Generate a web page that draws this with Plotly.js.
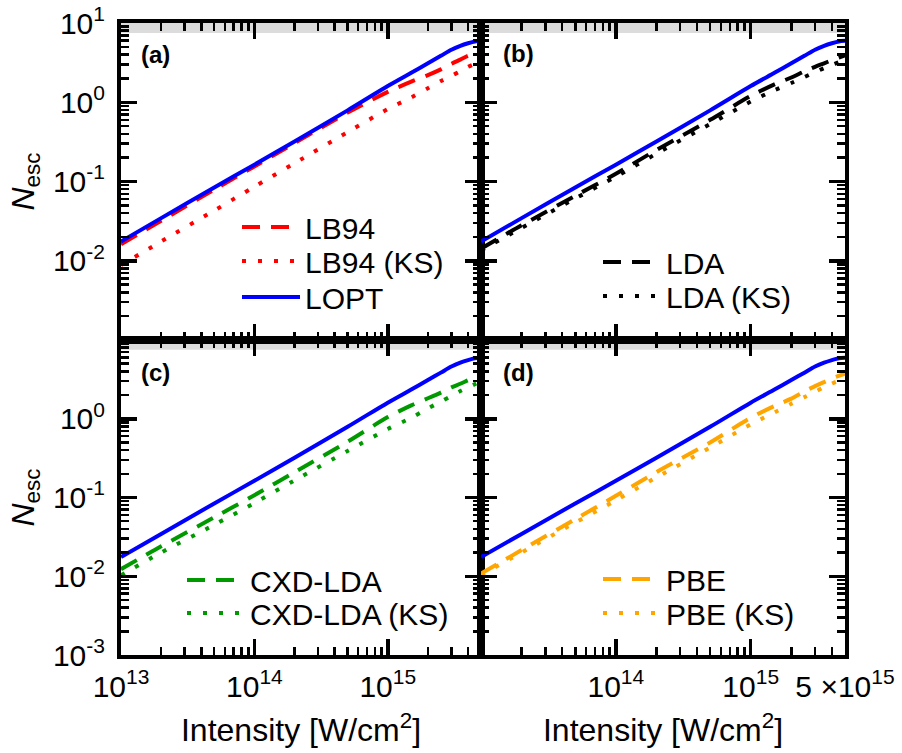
<!DOCTYPE html>
<html><head><meta charset="utf-8">
<script src="https://cdn.plot.ly/plotly-3.0.1.min.js"></script>
<style>html,body{margin:0;padding:0;background:#fff}#chart{width:902px;height:753px}</style>
</head><body><div id="chart"></div><script>
// Intensity grid [W/cm^2]
const intensity = [1e13, 2e13, 5e13, 1e14, 2e14, 5e14, 1e15, 1.5e15, 2e15, 2.5e15, 3e15, 3.5e15, 4e15, 4.5e15, 5e15];
// N_esc values
const lopt   = [0.0175, 0.0345, 0.084, 0.163, 0.32, 0.79, 1.6, 2.35, 3.1, 3.85, 4.6, 5.15, 5.55, 5.85, 5.95];
const lb94   = [0.0162, 0.032, 0.079, 0.155, 0.305, 0.74, 1.35, 1.82, 2.2, 2.6, 3.05, 3.45, 3.85, 4.1, 4.35];
const lb94ks = [0.0088, 0.0175, 0.043, 0.086, 0.17, 0.42, 0.82, 1.15, 1.5, 1.85, 2.15, 2.47, 2.8, 3.05, 3.3];
const lda    = [0.0142, 0.028, 0.066, 0.125, 0.25, 0.6, 1.2, 1.68, 2.05, 2.45, 2.8, 3.1, 3.4, 3.65, 3.9];
const ldaks  = [0.0135, 0.026, 0.061, 0.115, 0.225, 0.53, 1.02, 1.42, 1.75, 2.08, 2.4, 2.7, 2.95, 3.2, 3.4];
const cxd    = [0.0123, 0.024, 0.056, 0.107, 0.21, 0.51, 1.05, 1.48, 1.82, 2.15, 2.5, 2.78, 3.08, 3.35, 3.6];
const cxdks  = [0.0103, 0.020, 0.045, 0.085, 0.165, 0.39, 0.74, 1.03, 1.35, 1.65, 1.95, 2.25, 2.5, 2.75, 3.0];
const pbe    = [0.0108, 0.0215, 0.053, 0.105, 0.21, 0.5, 1.03, 1.45, 1.8, 2.22, 2.6, 2.92, 3.25, 3.5, 3.75];
const pbeks  = [0.0104, 0.020, 0.048, 0.092, 0.18, 0.43, 0.85, 1.2, 1.55, 1.88, 2.2, 2.52, 2.8, 3.05, 3.3];

const panelLabels = ['(a)', '(b)', '(c)', '(d)'];
const xTickVals = [1e13, 1e14, 1e15, 5e15];
const xTickTextLeft = ['10<sup>13</sup>', '10<sup>14</sup>', '10<sup>15</sup>', ''];
const xTickTextRight = ['', '10<sup>14</sup>', '10<sup>15</sup>', '5 ×10<sup>15</sup>'];
const xMinorVals = [2e13,3e13,4e13,5e13,6e13,7e13,8e13,9e13,2e14,3e14,4e14,5e14,6e14,7e14,8e14,9e14,2e15,3e15,4e15];
const yTickVals = [1e-3, 1e-2, 1e-1, 1, 10];
const yTickTextTop = ['', '10<sup>-2</sup>', '10<sup>-1</sup>', '10<sup>0</sup>', '10<sup>1</sup>'];
const yTickTextBottom = ['10<sup>-3</sup>', '10<sup>-2</sup>', '10<sup>-1</sup>', '10<sup>0</sup>', ''];
const yMinorVals = [2e-3,3e-3,4e-3,5e-3,6e-3,7e-3,8e-3,9e-3,2e-2,3e-2,4e-2,5e-2,6e-2,7e-2,8e-2,9e-2,
                    0.2,0.3,0.4,0.5,0.6,0.7,0.8,0.9,2,3,4,5,6,7,8,9];
const bandRange = [7.5, 10];
const xTitle = 'Intensity [W/cm<sup>2</sup>]';
const yTitle = '<i>N</i><sub>esc</sub>';

const FONT = 'Liberation Sans, Arial, Helvetica, sans-serif';
const FS = 30;
const BLUE = '#0000ff', RED = '#ff0000', BLACK = '#000000', GREEN = '#009a00', ORANGE = '#ffa500';
const DASH = '18px,11px', DOT = '4px,12px';
const LW = 4;

function tr(y, name, color, dash, xa, ya, leg, show) {
  return {x: intensity, y: y, name: name, type: 'scatter', mode: 'lines',
    line: {color: color, width: LW, dash: dash, shape: 'spline', smoothing: 0.8}, xaxis: xa, yaxis: ya,
    legend: leg, showlegend: show};
}
const data = [
  tr(lb94, 'LB94', RED, DASH, 'x', 'y', 'legend', true),
  tr(lb94ks, 'LB94 (KS)', RED, DOT, 'x', 'y', 'legend2', true),
  tr(lopt, 'LOPT', BLUE, 'solid', 'x', 'y', 'legend3', true),
  tr(lopt, 'LOPT', BLUE, 'solid', 'x2', 'y2', 'legend3', false),
  tr(lda, 'LDA', BLACK, DASH, 'x2', 'y2', 'legend4', true),
  tr(ldaks, 'LDA (KS)', BLACK, DOT, 'x2', 'y2', 'legend5', true),
  tr(lopt, 'LOPT', BLUE, 'solid', 'x3', 'y3', 'legend3', false),
  tr(cxd, 'CXD-LDA', GREEN, DASH, 'x3', 'y3', 'legend6', true),
  tr(cxdks, 'CXD-LDA (KS)', GREEN, DOT, 'x3', 'y3', 'legend7', true),
  tr(lopt, 'LOPT', BLUE, 'solid', 'x4', 'y4', 'legend3', false),
  tr(pbe, 'PBE', ORANGE, DASH, 'x4', 'y4', 'legend8', true),
  tr(pbeks, 'PBE (KS)', ORANGE, DOT, 'x4', 'y4', 'legend9', true)
];

const W = 902, H = 753;
const xL = [121 / W, 481 / W], xR = [481 / W, 845 / W];
const yT = [1 - 340 / H, 1 - 23 / H], yB = [1 - 655 / H, 1 - 340 / H];

function axis(extra) {
  return Object.assign({
    type: 'log', showline: true, linecolor: 'black', linewidth: 4, mirror: 'allticks',
    ticks: 'inside', ticklen: 16, tickwidth: 3.5, tickcolor: 'black',
    showgrid: false, zeroline: false, automargin: false, tickmode: 'array',
    tickfont: {family: FONT, size: FS, color: 'black'},
    minor: {tickmode: 'array', ticks: 'inside', ticklen: 8, tickwidth: 2.5, tickcolor: 'black', showgrid: false}
  }, extra);
}
function xaxis(domain, anchor, labels, show, title) {
  const a = axis({domain: domain, anchor: anchor, range: [13, Math.log10(5e15)],
    tickvals: xTickVals, ticktext: labels, showticklabels: show, ticklabelstandoff: 2});
  a.minor.tickvals = xMinorVals;
  if (title) a.title = {text: xTitle, font: {family: FONT, size: 32, color: 'black'}, standoff: 18};
  return a;
}
function yaxis(domain, anchor, labels, show, title) {
  const a = axis({domain: domain, anchor: anchor, range: [-3, 1],
    tickvals: yTickVals, ticktext: labels, showticklabels: show, ticklabelstandoff: 6});
  a.minor.tickvals = yMinorVals;
  if (title) a.title = {text: yTitle, font: {family: FONT, size: 32, color: 'black'}, standoff: 10};
  return a;
}
// legend entries: [sample start x, row centre y] in pixels
function legend(px, py) {
  return {x: (px - 5) / W, y: 1 - (py - 26) / H, xref: 'paper', yref: 'paper', xanchor: 'left', yanchor: 'top',
    bgcolor: 'rgba(0,0,0,0)', borderwidth: 0, itemwidth: 58,
    font: {family: FONT, size: FS, color: 'black'}, tracegroupgap: 0};
}
const shapes = ['', '2', '3', '4'].map(s => ({type: 'rect', xref: 'x' + s + ' domain', yref: 'y' + s,
  x0: 0, x1: 1, y0: bandRange[0], y1: bandRange[1], fillcolor: '#dcdcdc', line: {width: 0}, layer: 'below'}));
const labelPos = [[139, 54], [501, 53], [139, 372], [501, 372]];
const annotations = panelLabels.map((t, i) => ({text: '<b>' + t + '</b>', xref: 'paper', yref: 'paper',
  x: labelPos[i][0] / W, y: 1 - labelPos[i][1] / H, xanchor: 'left', yanchor: 'middle', showarrow: false,
  font: {family: FONT, size: 24, color: 'black'}}));

const layout = {
  width: W, height: H, margin: {l: 0, r: 0, t: 0, b: 0},
  paper_bgcolor: 'white', plot_bgcolor: 'white',
  font: {family: FONT, color: 'black'},
  xaxis: xaxis(xL, 'y', xTickTextLeft, false, false),
  yaxis: yaxis(yT, 'x', yTickTextTop, true, true),
  xaxis2: xaxis(xR, 'y2', xTickTextRight, false, false),
  yaxis2: yaxis(yT, 'x2', yTickTextTop, false, false),
  xaxis3: xaxis(xL, 'y3', xTickTextLeft, true, true),
  yaxis3: yaxis(yB, 'x3', yTickTextBottom, true, true),
  xaxis4: xaxis(xR, 'y4', xTickTextRight, true, true),
  yaxis4: yaxis(yB, 'x4', yTickTextBottom, false, false),
  legend: legend(242, 227),
  legend2: legend(242, 261),
  legend3: legend(242, 297),
  legend4: legend(603, 262),
  legend5: legend(603, 296),
  legend6: legend(187, 580),
  legend7: legend(187, 613),
  legend8: legend(603, 579),
  legend9: legend(603, 613),
  shapes: shapes,
  annotations: annotations
};
Plotly.newPlot('chart', data, layout, {displayModeBar: false, staticPlot: true});
</script></body></html>
